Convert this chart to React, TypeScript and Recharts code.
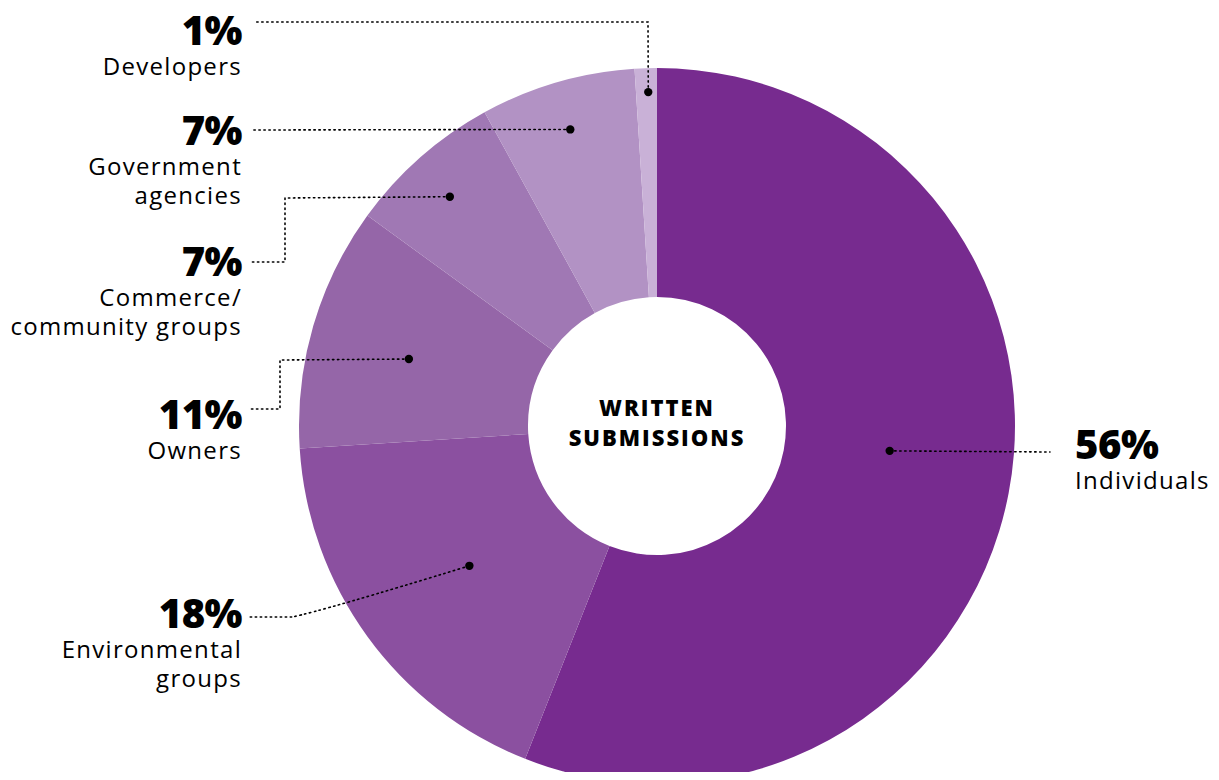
import { PieChart, Pie, Cell } from "recharts";

const CATEGORIES = ["Individuals", "Environmental groups", "Owners", "Commerce/ community groups", "Government agencies", "Developers"];
const LABEL_LINES = [["Individuals"], ["Environmental", "groups"], ["Owners"], ["Commerce/", "community groups"], ["Government", "agencies"], ["Developers"]];
const SHARES = [56, 18, 11, 7, 7, 1];
const COLORS = ["#772b8f", "#8b50a0", "#9566a8", "#a078b4", "#b292c4", "#c9b1d7"];

// where each annotation sits: dot in polar terms around the centre, leader path, text block
const LABEL_LAYOUT = [
  { ang: -6.1, r: 234, path: [[1050, 452]], tx: 1075, ty: 459, anchor: "start" },
  { ang: 216.7, r: 234, path: [[292, 617], [250, 617]], tx: 242, ty: 628, anchor: "end", curve: true },
  { ang: 164.9, r: 257, path: [[280, 360], [280, 409], [250, 409]], tx: 242, ty: 429, anchor: "end" },
  { ang: 132.1, r: 309, path: [[285, 198], [285, 262], [250, 262]], tx: 242, ty: 276, anchor: "end" },
  { ang: 106.3, r: 309, path: [[252, 130]], tx: 242, ty: 145, anchor: "end" },
  { ang: 91.5, r: 334, path: [[648, 22], [255, 22]], tx: 242, ty: 45, anchor: "end" },
];

const data = CATEGORIES.map((name, i) => ({ name, value: SHARES[i] }));
const FONT = "'Open Sans', 'Noto Sans', sans-serif";

function renderLabel(props: any) {
  const { cx, cy, index } = props;
  const l = LABEL_LAYOUT[index];
  const rad = (l.ang * Math.PI) / 180;
  const dx = cx + l.r * Math.cos(rad);
  const dy = cy - l.r * Math.sin(rad);
  let d = `M${dx},${dy}`;
  if (l.curve) {
    const [p1, p2] = l.path;
    d += ` Q${p1[0] + 30},${p1[1] - 6} ${p1[0]},${p1[1]} L${p2[0]},${p2[1]}`;
  } else {
    l.path.forEach((p) => { d += ` L${p[0]},${p[1]}`; });
  }
  return (
    <g key={`lbl-${index}`}>
      <path d={d} fill="none" stroke="#000" strokeWidth={1.6} strokeDasharray="1.4 3.6" strokeLinecap="round" />
      <circle cx={dx} cy={dy} r={4.2} fill="#000" />
      <text x={l.tx} y={l.ty} textAnchor={l.anchor} fontFamily={FONT} fill="#000">
        <tspan x={l.tx} y={l.ty} fontWeight={800} fontSize={40} letterSpacing={-0.5}>
          {SHARES[index]}%
        </tspan>
        {LABEL_LINES[index].map((line, j) => (
          <tspan key={j} x={l.tx} y={l.ty + 30 + j * 29} fontSize={24} letterSpacing={1.3}>
            {line}
          </tspan>
        ))}
      </text>
    </g>
  );
}

export default function App() {
  return (
    <div style={{ margin: -8, width: 1219, height: 780, background: "#fff", overflow: "hidden" }}>
      <PieChart width={1219} height={780} margin={{ top: 0, right: 0, bottom: 0, left: 0 }}>
        <Pie
          data={data}
          dataKey="value"
          nameKey="name"
          cx={657}
          cy={426}
          innerRadius={129}
          outerRadius={358}
          startAngle={90}
          endAngle={-270}
          stroke="none"
          label={renderLabel}
          labelLine={false}
          isAnimationActive={false}
        >
          {data.map((_, i) => (
            <Cell key={i} fill={COLORS[i]} />
          ))}
        </Pie>
        <text textAnchor="middle" fontFamily={FONT} fontWeight={800} fontSize={22} fill="#000" letterSpacing={2}>
          <tspan x={657} y={416}>WRITTEN</tspan>
          <tspan x={657} y={446}>SUBMISSIONS</tspan>
        </text>
      </PieChart>
    </div>
  );
}
